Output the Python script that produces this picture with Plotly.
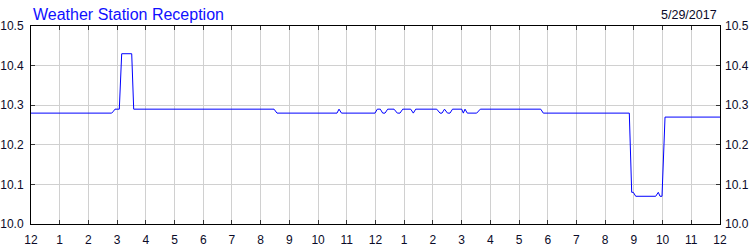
import plotly.graph_objects as go

# time of day in hours (0 = 12 AM, 24 = next 12 AM) and received value
hours = [0.0, 2.811, 2.874, 2.926, 3.076, 3.159, 3.508, 3.577, 8.465, 8.569,
         10.659, 10.729, 10.816,
         11.983, 12.063, 12.167, 12.251, 12.331, 12.425, 12.645, 12.760, 12.853,
         12.948, 13.226, 13.317, 13.401,
         14.132, 14.247, 14.317, 14.404, 14.508, 14.595, 14.682, 15.003, 15.059,
         15.118, 15.198, 15.525, 15.651, 17.755, 17.845,
         20.841, 20.924, 20.980, 21.064, 21.760, 21.851, 21.910, 21.980, 22.085, 24.0]
values = [10.28, 10.28, 10.285, 10.29, 10.29, 10.43, 10.43, 10.29, 10.29, 10.28,
          10.28, 10.29, 10.28,
          10.28, 10.29, 10.29, 10.28, 10.28, 10.29, 10.29, 10.28, 10.28,
          10.29, 10.29, 10.28, 10.29,
          10.29, 10.28, 10.28, 10.29, 10.28, 10.28, 10.29, 10.29, 10.28,
          10.29, 10.28, 10.28, 10.29, 10.29, 10.28,
          10.28, 10.08, 10.08, 10.07, 10.07, 10.08, 10.07, 10.07, 10.27, 10.27]

x_tickvals = list(range(0, 25))
x_ticktext = ["12"] + [str(i) for i in range(1, 12)] + ["12"] + [str(i) for i in range(1, 12)] + ["12"]
y_tickvals = [10.0, 10.1, 10.2, 10.3, 10.4, 10.5]

title_text = "Weather Station Reception"
date_text = "5/29/2017"

font_family = "Liberation Sans, Arial, sans-serif"

fig = go.Figure()
fig.add_trace(go.Scatter(x=hours, y=values, mode="lines",
                         line=dict(color="#0000ff", width=1), showlegend=False,
                         hoverinfo="skip"))
fig.add_trace(go.Scatter(x=[hours[0]], y=[values[0]], yaxis="y2", mode="lines",
                         line=dict(width=0), showlegend=False, hoverinfo="skip"))

fig.update_layout(
    width=750, height=250,
    margin=dict(l=31, r=30, t=26, b=26, autoexpand=False),
    paper_bgcolor="white", plot_bgcolor="white",
    font=dict(family=font_family, size=12, color="#000000"),
    xaxis=dict(range=[0, 24], tickvals=x_tickvals, ticktext=x_ticktext,
               showgrid=True, gridcolor="#d0d0d0", gridwidth=1,
               ticks="inside", ticklen=4, tickcolor="#333333",
               showline=True, linecolor="#000000", linewidth=1, mirror="ticks",
               zeroline=False, ticklabelstandoff=5, automargin=False,
               tickfont=dict(size=12, color="#0a0a28")),
    yaxis=dict(range=[10.0, 10.5], tickvals=y_tickvals, tickformat=".1f",
               showgrid=True, gridcolor="#d0d0d0", gridwidth=1,
               ticks="inside", ticklen=4, tickcolor="#333333",
               showline=True, linecolor="#000000", linewidth=1, mirror="ticks",
               zeroline=False, ticklabelstandoff=4, automargin=False,
               tickfont=dict(size=12, color="#0a0a28")),
    yaxis2=dict(range=[10.0, 10.5], tickvals=y_tickvals, tickformat=".1f",
                overlaying="y", side="right", showgrid=False, ticks="",
                showline=False, zeroline=False, ticklabelstandoff=4, automargin=False,
                tickfont=dict(size=12, color="#0a0a28")),
    annotations=[
        dict(text=title_text, xref="paper", yref="paper", x=0, y=1,
             xanchor="left", yanchor="bottom", xshift=0, yshift=1, showarrow=False,
             font=dict(size=16, color="#1010ff", family=font_family)),
        dict(text=date_text, xref="paper", yref="paper", x=1, y=1,
             xanchor="right", yanchor="bottom", xshift=-1, yshift=2, showarrow=False,
             font=dict(size=12.5, color="#0a0a28", family=font_family)),
    ],
)

fig.write_html("out.html")
